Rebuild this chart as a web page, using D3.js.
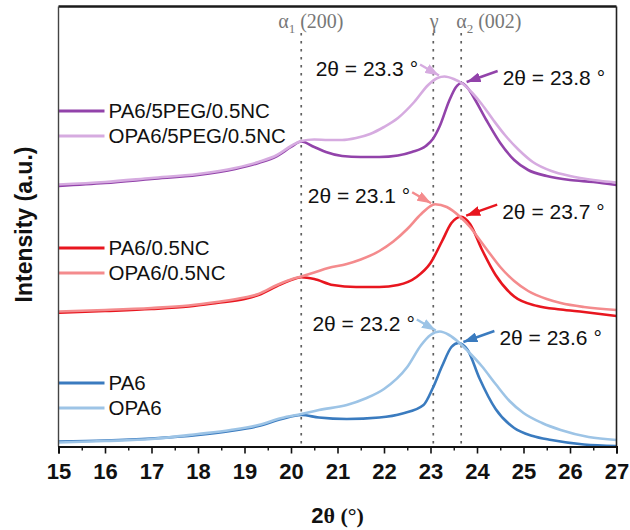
<!DOCTYPE html>
<html>
<head>
<meta charset="utf-8">
<script src="https://cdn.jsdelivr.net/npm/d3@7"></script>
<style>
  body { margin: 0; background: #fff; }
  svg { font-family: "Liberation Sans", Arial, sans-serif; }
</style>
</head>
<body>
<div id="chart"></div>
<script>
// 2θ (°) / intensity (a.u.) pairs
const pa6peg = [[15,260.5],[16,263.5],[17,267.5],[18,271.5],[18.8,277.5],[19.3,283.5],[19.7,290.5],[20,299.5],[20.22,305],[20.5,299.5],[20.75,294.5],[21.1,290.5],[21.5,289.5],[21.9,289.5],[22.3,291],[22.6,294.5],[22.9,300.5],[23.05,307.5],[23.2,320.5],[23.4,345.5],[23.55,359.5],[23.67,363.5],[23.8,358.5],[23.95,347.5],[24.2,326.5],[24.5,303.5],[24.8,286.5],[25.1,276.5],[25.5,270.5],[26,266.5],[26.5,264.5],[27,261.5]];
const opa6peg = [[15,262],[16,264.5],[17,268.5],[18,272.5],[18.8,278.5],[19.3,284.5],[19.7,291.5],[20,300.5],[20.22,305.5],[20.5,307],[20.8,306.5],[21.1,306.5],[21.4,308.5],[21.7,312.5],[22,319.5],[22.3,328.5],[22.65,344.5],[22.95,361.5],[23.15,368.5],[23.3,370],[23.5,367.5],[23.7,362.5],[23.9,353.5],[24.1,342.5],[24.35,326.5],[24.6,311.5],[24.9,296.5],[25.2,284.5],[25.6,275.5],[26,270.5],[26.5,266.5],[27,264]];
const pa6nc = [[15,133.8],[16,135.5],[17,137.5],[17.8,140],[18.4,143.5],[19,147.5],[19.3,151.5],[19.7,160.5],[20,166.5],[20.22,169.2],[20.5,167.5],[20.9,161.5],[21.4,159.5],[21.9,159.5],[22.3,161.5],[22.7,169.5],[23,183.5],[23.25,205.5],[23.45,223.5],[23.66,229.8],[23.85,222.5],[24.1,197.5],[24.4,171.5],[24.8,150],[25.3,140.5],[25.8,137],[26.3,134.5],[27,130.5]];
const opa6nc = [[15,135],[16,136.5],[17,138.5],[17.8,141],[18.4,144.5],[19,149],[19.3,152.5],[19.7,161.5],[20,167],[20.22,170],[20.5,174],[20.8,178.5],[21.2,182.5],[21.5,187],[21.9,195.5],[22.2,205],[22.5,217.5],[22.8,232.5],[23.1,242.2],[23.35,239.5],[23.63,230],[23.85,219.5],[24.06,206.5],[24.3,191.5],[24.5,179.5],[24.8,165.5],[25.1,155.5],[25.5,147.5],[25.8,143.5],[26.3,139.5],[27,136.5]];
const pa6 = [[15,5],[16,6],[17,8],[18,11.5],[18.7,15.5],[19.3,20.5],[19.8,27.5],[20.22,31.5],[20.6,29],[21.2,27.5],[21.9,29],[22.4,33],[22.85,41.5],[23.05,58.5],[23.25,80.5],[23.45,99.5],[23.6,103.5],[23.8,96.5],[24.05,68.5],[24.4,37.5],[24.8,18.5],[25.2,10.5],[25.6,6.5],[26.3,2],[27,0.5]];
const opa6 = [[15,4],[16,5.5],[17,7.5],[18,12.5],[18.7,16.5],[19.3,21.5],[19.8,28.5],[20.22,32.5],[20.6,36.5],[21.2,41.5],[21.6,48],[22,57.5],[22.5,79.5],[22.8,101.5],[23,111.5],[23.2,115],[23.4,111.5],[23.6,104.5],[23.8,95.5],[24.1,80.5],[24.4,62.5],[24.7,45.5],[25,33.5],[25.4,23.5],[25.8,16.5],[26.4,9.5],[27,6.5]];

const xTicks = d3.range(15, 28, 1);
const xMinor = d3.range(15.5, 27, 1);

// reflection positions (2θ)
const refLines = [20.22, 23.06, 23.66];

// peak labels: which series, peak 2θ / intensity
const peakLabels = ["2θ = 23.3 °", "2θ = 23.8 °", "2θ = 23.1 °", "2θ = 23.7 °", "2θ = 23.2 °", "2θ = 23.6 °"];
const peakSeries = [1, 0, 3, 2, 5, 4];
const peakTheta = [23.27, 23.67, 23.1, 23.66, 23.2, 23.6];
const peakValue = [370, 363.5, 242.2, 229.8, 115, 103.5];

const width = 630;
const height = 530;

const svg = d3.select("#chart")
    .append("svg")
    .attr("width", width)
    .attr("height", height);

const x = d3.scaleLinear().domain([15, 27]).range([58.5, 616.5]);
const y = d3.scaleLinear().domain([0, 440]).range([446.5, 6.5]);

const series = [
    {name: "PA6/5PEG/0.5NC", data: pa6peg, color: "#9243aa", ly: 111},
    {name: "OPA6/5PEG/0.5NC", data: opa6peg, color: "#d6abe0", ly: 136},
    {name: "PA6/0.5NC", data: pa6nc, color: "#e8161f", ly: 248},
    {name: "OPA6/0.5NC", data: opa6nc, color: "#f48b8d", ly: 273},
    {name: "PA6", data: pa6, color: "#3a7bbf", ly: 383},
    {name: "OPA6", data: opa6, color: "#9dc4e6", ly: 408}
];

// dotted reference lines
svg.append("g")
    .selectAll("line")
    .data(refLines)
    .join("line")
    .attr("x1", d => x(d))
    .attr("x2", d => x(d))
    .attr("y1", 33)
    .attr("y2", y(0))
    .attr("stroke", "#606060")
    .attr("stroke-width", 1.7)
    .attr("stroke-dasharray", "2.5 5.5");

const refText = svg.append("g")
    .attr("font-family", "'Liberation Serif', 'Times New Roman', serif")
    .attr("font-size", 20)
    .attr("fill", "#777");

const t1 = refText.append("text").attr("x", x(refLines[0]) - 23).attr("y", 28);
t1.append("tspan").text("α");
t1.append("tspan").attr("font-size", 13).attr("dy", 5).text("1");
t1.append("tspan").attr("dy", -5).text(" (200)");

refText.append("text")
    .attr("x", x(refLines[1]) + 1)
    .attr("y", 28)
    .attr("text-anchor", "middle")
    .text("γ");

const t2 = refText.append("text").attr("x", x(refLines[2]) - 5).attr("y", 28);
t2.append("tspan").text("α");
t2.append("tspan").attr("font-size", 13).attr("dy", 5).text("2");
t2.append("tspan").attr("dy", -5).text(" (002)");

// curves
const line = d3.line()
    .x(d => x(d[0]))
    .y(d => y(d[1]))
    .curve(d3.curveMonotoneX);

svg.append("g")
    .selectAll("path")
    .data(series)
    .join("path")
    .attr("d", d => line(d.data))
    .attr("fill", "none")
    .attr("stroke", d => d.color)
    .attr("stroke-width", 2.6)
    .attr("stroke-linejoin", "round");

// legend
const legend = svg.append("g")
    .selectAll("g")
    .data(series)
    .join("g")
    .attr("transform", d => `translate(0,${d.ly})`);

legend.append("line")
    .attr("x1", x(15))
    .attr("x2", x(15) + 46)
    .attr("stroke", d => d.color)
    .attr("stroke-width", 3);

legend.append("text")
    .attr("x", x(15) + 50)
    .attr("dy", "0.36em")
    .attr("font-size", 20.5)
    .attr("fill", "#111")
    .text(d => d.name);

// peak arrows
const defs = svg.append("defs");
series.forEach((s, i) => {
    defs.append("marker")
        .attr("id", "arrow" + i)
        .attr("markerUnits", "userSpaceOnUse")
        .attr("viewBox", "0 0 14 10")
        .attr("refX", 14)
        .attr("refY", 5)
        .attr("markerWidth", 14)
        .attr("markerHeight", 10)
        .attr("orient", "auto")
        .append("path")
        .attr("d", "M0,0L14,5L0,10Z")
        .attr("fill", s.color);
});

const ann = svg.append("g").attr("font-size", 21).attr("fill", "#111");
peakLabels.forEach((label, i) => {
    const s = peakSeries[i];
    const px = x(peakTheta[i]);
    const py = y(peakValue[i]);
    const light = i % 2 === 0;
    const hx = light ? px - 4 : px + 5;
    const hy = py - 1;
    const tx = light ? hx - 19 : hx + 31;
    const ty = hy - 11;
    ann.append("line")
        .attr("x1", tx).attr("y1", ty)
        .attr("x2", hx).attr("y2", hy)
        .attr("stroke", series[s].color)
        .attr("stroke-width", 2.4)
        .attr("marker-end", `url(#arrow${s})`);
    ann.append("text")
        .attr("x", light ? tx - 2 : tx + 5)
        .attr("y", light ? ty + 11 : ty + 14)
        .attr("text-anchor", light ? "end" : "start")
        .text(label);
});

// frame
const frame = svg.append("g").attr("fill", "none");
frame.append("line").attr("x1", x(15)).attr("x2", x(27)).attr("y1", y(440)).attr("y2", y(440))
    .attr("stroke", "#1a1a1a").attr("stroke-width", 2.4);
frame.append("line").attr("x1", x(15)).attr("x2", x(15)).attr("y1", y(440)).attr("y2", y(0))
    .attr("stroke", "#444").attr("stroke-width", 1.4);
frame.append("line").attr("x1", x(27)).attr("x2", x(27)).attr("y1", y(440)).attr("y2", y(0))
    .attr("stroke", "#222").attr("stroke-width", 1.6);

// x axis
const xAxis = svg.append("g")
    .attr("transform", `translate(0,${y(0)})`)
    .call(d3.axisBottom(x).tickValues(xTicks).tickSize(7).tickPadding(9.5).tickFormat(d3.format("d")));
xAxis.select(".domain").attr("stroke", "#111").attr("stroke-width", 2);
xAxis.selectAll(".tick line").attr("stroke", "#111").attr("stroke-width", 1.6);
xAxis.selectAll(".tick text")
    .attr("font-family", "'Liberation Sans', Arial, sans-serif")
    .attr("font-size", 22)
    .attr("font-weight", "bold")
    .attr("fill", "#111");

const xMinorAxis = svg.append("g")
    .attr("transform", `translate(0,${y(0)})`)
    .call(d3.axisBottom(x).tickValues(xMinor).tickSize(4).tickFormat(""));
xMinorAxis.select(".domain").remove();
xMinorAxis.selectAll(".tick line").attr("stroke", "#111").attr("stroke-width", 1.4);

// axis titles
const xTitle = svg.append("text")
    .attr("x", (x(15) + x(27)) / 2)
    .attr("y", 523)
    .attr("text-anchor", "middle")
    .attr("font-size", 22)
    .attr("font-weight", "bold")
    .attr("fill", "#111");
xTitle.append("tspan").text("2");
xTitle.append("tspan").attr("font-family", "'Liberation Serif', 'Times New Roman', serif").text("θ (°)");

svg.append("text")
    .attr("transform", `translate(32,${(y(440) + y(0)) / 2 - 2}) rotate(-90)`)
    .attr("text-anchor", "middle")
    .attr("font-size", 23)
    .attr("font-weight", "bold")
    .attr("fill", "#111")
    .text("Intensity (a.u.)");
</script>
</body>
</html>
